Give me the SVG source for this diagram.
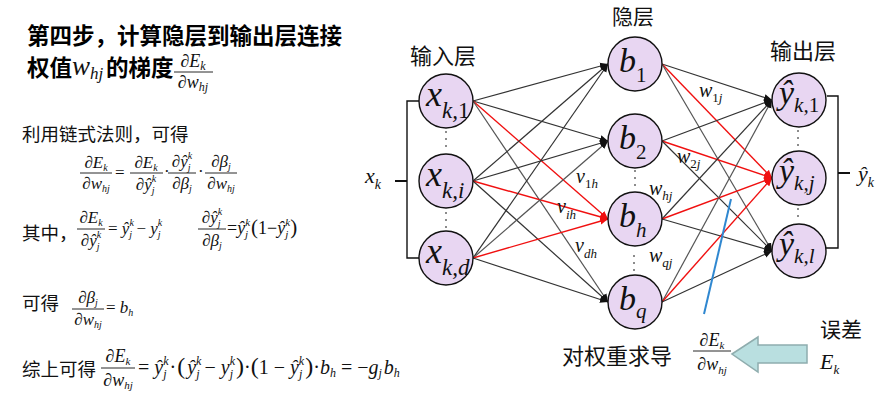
<svg xmlns="http://www.w3.org/2000/svg" width="881" height="400" viewBox="0 0 881 400">
<style>
.cn{font-family:"Noto Sans CJK SC","Noto Sans",sans-serif;fill:#111}
.cnb{font-family:"Noto Sans CJK SC","Noto Sans",sans-serif;font-weight:bold;fill:#000}
.mi{font-family:"Liberation Serif",serif;font-style:italic;fill:#111}
.mu{font-style:normal}
.node{fill:#e8d6f2;stroke:#111;stroke-width:1.4}
.e{stroke:#333;stroke-width:1.2;fill:none;marker-end:url(#ab)}
.r{stroke:#f01010;stroke-width:1.4;fill:none;marker-end:url(#ar)}
.bar{stroke:#111;stroke-width:0.9}
.dot{fill:#666}
</style>
<defs>
<marker id="ab" markerUnits="userSpaceOnUse" markerWidth="9" markerHeight="8" refX="8" refY="4" orient="auto"><path d="M0,0.5 L8,4 L0,7.5 Z" fill="#111"/></marker>
<marker id="ar" markerUnits="userSpaceOnUse" markerWidth="9" markerHeight="8" refX="8" refY="4" orient="auto"><path d="M0,0.5 L8,4 L0,7.5 Z" fill="#f01010"/></marker>
</defs>
<rect width="881" height="400" fill="#fff"/>

<!-- left text -->
<g id="title">
<text class="cnb" x="27" y="44" font-size="22.5">第四步，计算隐层到输出层连接</text>
<text class="cnb" x="27" y="76" font-size="22.5">权值</text>
<text class="mi" x="72" y="75" font-size="27">w<tspan font-size="17" dy="4">hj</tspan></text>
<text class="cnb" x="106" y="76" font-size="22.5">的梯度</text>
<text class="mi" x="193" y="67" font-size="18" text-anchor="middle"><tspan class="mu">∂</tspan>E<tspan font-size="12" dy="3">k</tspan></text>
<line class="bar" x1="174" y1="72" x2="213" y2="72"/>
<text class="mi" x="193" y="88" font-size="18" text-anchor="middle"><tspan class="mu">∂</tspan>w<tspan font-size="12" dy="3">hj</tspan></text>
</g>

<g id="eq1">
<text class="cn" x="22" y="141" font-size="18.5">利用链式法则，可得</text>
<text class="mi" x="96" y="168" font-size="17" text-anchor="middle"><tspan class="mu">∂</tspan>E<tspan font-size="10" dy="3">k</tspan></text>
<line class="bar" x1="80" y1="173" x2="112" y2="173"/>
<text class="mi" x="96" y="189" font-size="17" text-anchor="middle"><tspan class="mu">∂</tspan>w<tspan font-size="10" dy="3">hj</tspan></text>
<text class="mi mu" x="115" y="178" font-size="17">=</text>
<text class="mi" x="146" y="168" font-size="17" text-anchor="middle"><tspan class="mu">∂</tspan>E<tspan font-size="10" dy="3">k</tspan></text>
<line class="bar" x1="130" y1="173" x2="163" y2="173"/>
<text class="mi" x="146" y="190" font-size="17" text-anchor="middle"><tspan class="mu">∂</tspan>ŷ<tspan font-size="10" dy="-8">k</tspan><tspan font-size="10" dx="-4.5" dy="12">j</tspan></text>
<text class="mi mu" x="164" y="177" font-size="17">·</text>
<text class="mi" x="182" y="167" font-size="17" text-anchor="middle"><tspan class="mu">∂</tspan>ŷ<tspan font-size="10" dy="-8">k</tspan><tspan font-size="10" dx="-4.5" dy="12">j</tspan></text>
<line class="bar" x1="168" y1="173" x2="196" y2="173"/>
<text class="mi" x="182" y="189" font-size="17" text-anchor="middle"><tspan class="mu">∂</tspan>β<tspan font-size="10" dy="3">j</tspan></text>
<text class="mi mu" x="198" y="177" font-size="17">·</text>
<text class="mi" x="221" y="167" font-size="17" text-anchor="middle"><tspan class="mu">∂</tspan>β<tspan font-size="10" dy="3">j</tspan></text>
<line class="bar" x1="205" y1="173" x2="237" y2="173"/>
<text class="mi" x="221" y="189" font-size="17" text-anchor="middle"><tspan class="mu">∂</tspan>w<tspan font-size="10" dy="3">hj</tspan></text>
</g>

<g id="eq2">
<text class="cn" x="22" y="240" font-size="18.5">其中，</text>
<text class="mi" x="91" y="223" font-size="17" text-anchor="middle"><tspan class="mu">∂</tspan>E<tspan font-size="10" dy="3">k</tspan></text>
<line class="bar" x1="77" y1="229" x2="105" y2="229"/>
<text class="mi" x="91" y="246" font-size="17" text-anchor="middle"><tspan class="mu">∂</tspan>ŷ<tspan font-size="10" dy="-8">k</tspan><tspan font-size="10" dx="-4.5" dy="12">j</tspan></text>
<text class="mi" x="108" y="234" font-size="17"><tspan class="mu">= </tspan>ŷ<tspan font-size="10" dy="-8">k</tspan><tspan font-size="10" dx="-4.5" dy="12">j</tspan><tspan class="mu" dy="-4"> − </tspan>y<tspan font-size="10" dy="-8">k</tspan><tspan font-size="10" dx="-4.5" dy="12">j</tspan></text>
<text class="mi" x="212" y="223" font-size="17" text-anchor="middle"><tspan class="mu">∂</tspan>ŷ<tspan font-size="10" dy="-8">k</tspan><tspan font-size="10" dx="-4.5" dy="12">j</tspan></text>
<line class="bar" x1="198" y1="229" x2="226" y2="229"/>
<text class="mi" x="212" y="246" font-size="17" text-anchor="middle"><tspan class="mu">∂</tspan>β<tspan font-size="10" dy="3">j</tspan></text>
<text class="mi" x="227" y="234" font-size="18"><tspan class="mu">=</tspan>ŷ<tspan font-size="11" dy="-8">k</tspan><tspan font-size="11" dx="-5" dy="12">j</tspan><tspan class="mu" dy="-4" dx="3" font-size="21">(</tspan><tspan class="mu">1−</tspan>ŷ<tspan font-size="11" dy="-8">k</tspan><tspan font-size="11" dx="-5" dy="12">j</tspan><tspan class="mu" dy="-4" dx="2" font-size="21">)</tspan></text>
</g>

<g id="eq3">
<text class="cn" x="22" y="310" font-size="18.5">可得</text>
<text class="mi" x="88" y="303" font-size="17" text-anchor="middle"><tspan class="mu">∂</tspan>β<tspan font-size="10" dy="3">j</tspan></text>
<line class="bar" x1="72" y1="309" x2="104" y2="309"/>
<text class="mi" x="88" y="325" font-size="17" text-anchor="middle"><tspan class="mu">∂</tspan>w<tspan font-size="10" dy="3">hj</tspan></text>
<text class="mi" x="106" y="313" font-size="17"><tspan class="mu">= </tspan>b<tspan font-size="10" dy="3">h</tspan></text>
</g>

<g id="eq4">
<text class="cn" x="22" y="376" font-size="18.5">综上可得</text>
<text class="mi" x="118" y="362" font-size="18" text-anchor="middle"><tspan class="mu">∂</tspan>E<tspan font-size="11" dy="3">k</tspan></text>
<line class="bar" x1="101" y1="368" x2="135" y2="368"/>
<text class="mi" x="118" y="386" font-size="18" text-anchor="middle"><tspan class="mu">∂</tspan>w<tspan font-size="11" dy="3">hj</tspan></text>
<text class="mi" x="138" y="374" font-size="20"><tspan class="mu">= </tspan>ŷ<tspan font-size="12" dy="-9">k</tspan><tspan font-size="12" dx="-5.3" dy="13">j</tspan><tspan class="mu" dy="-4" dx="3">·</tspan><tspan class="mu" font-size="24" dx="1">(</tspan><tspan dx="2">ŷ</tspan><tspan font-size="12" dy="-9">k</tspan><tspan font-size="12" dx="-5.3" dy="13">j</tspan><tspan class="mu" dy="-4"> − </tspan>y<tspan font-size="12" dy="-9">k</tspan><tspan font-size="12" dx="-5.3" dy="13">j</tspan><tspan class="mu" dy="-4" dx="3" font-size="24">)</tspan><tspan class="mu">·</tspan><tspan class="mu" font-size="24">(</tspan><tspan class="mu">1 − </tspan>ŷ<tspan font-size="12" dy="-9">k</tspan><tspan font-size="12" dx="-5.3" dy="13">j</tspan><tspan class="mu" dy="-4" dx="3" font-size="24">)</tspan><tspan class="mu">·</tspan>b<tspan font-size="12" dy="3">h</tspan><tspan class="mu" dy="-3"> = −</tspan>g<tspan font-size="12" dy="3">j</tspan><tspan dy="-3" dx="2">b</tspan><tspan font-size="12" dy="3">h</tspan></text>
</g>

<!-- connectors -->
<g id="connectors">
<path class="e" d="M473,101 L608,64"/>
<path class="e" d="M473,101 L608,141"/>
<path class="r" d="M473,101 L608,219"/>
<path class="e" d="M473,101 L608,302" style="stroke:#555"/>
<path class="e" d="M473,181 L608,64"/>
<path class="e" d="M473,181 L608,141"/>
<path class="r" d="M473,181 L608,219"/>
<path class="e" d="M473,181 L608,302"/>
<path class="e" d="M473,258 L608,64"/>
<path class="e" d="M473,258 L608,141" style="stroke:#555"/>
<path class="r" d="M473,258 L608,219"/>
<path class="e" d="M473,258 L608,302"/>

<path class="e" d="M662,64 L772,100"/>
<path class="r" d="M662,64 L772,178"/>
<path class="e" d="M662,64 L772,251" style="stroke:#555"/>
<path class="e" d="M662,141 L772,100"/>
<path class="r" d="M662,141 L772,178"/>
<path class="e" d="M662,141 L772,251"/>
<path class="e" d="M662,219 L772,100"/>
<path class="r" d="M662,219 L772,178"/>
<path class="e" d="M662,219 L772,251"/>
<path class="e" d="M662,302 L772,100" style="stroke:#555"/>
<path class="r" d="M662,302 L772,178"/>
<path class="e" d="M662,302 L772,251"/>

<path d="M419,101 H407 V258 H419" fill="none" stroke="#111" stroke-width="1.4"/>
<path d="M395,181 H407" stroke="#111" stroke-width="2"/>
<path d="M827,96 H838 V248 H826" fill="none" stroke="#111" stroke-width="1.4"/>
<path d="M838,173 H850" stroke="#111" stroke-width="2"/>
<line x1="731" y1="199" x2="704" y2="314" stroke="#2f87d0" stroke-width="2"/>
</g>

<!-- layer labels -->
<text class="cn" x="410" y="64" font-size="22">输入层</text>
<text class="cn" x="612" y="24" font-size="21">隐层</text>
<text class="cn" x="770" y="59" font-size="22">输出层</text>

<!-- dots -->
<g id="dots">
<circle class="dot" cx="446" cy="132" r="1"/><circle class="dot" cx="446" cy="139" r="1"/><circle class="dot" cx="446" cy="146" r="1"/>
<circle class="dot" cx="446" cy="213" r="1"/><circle class="dot" cx="446" cy="220" r="1"/><circle class="dot" cx="446" cy="227" r="1"/>
<circle class="dot" cx="635" cy="171" r="1"/><circle class="dot" cx="635" cy="178" r="1"/><circle class="dot" cx="635" cy="185" r="1"/>
<circle class="dot" cx="634" cy="256" r="1"/><circle class="dot" cx="634" cy="263" r="1"/><circle class="dot" cx="634" cy="270" r="1"/>
<circle class="dot" cx="798" cy="131" r="1"/><circle class="dot" cx="798" cy="138" r="1"/><circle class="dot" cx="798" cy="145" r="1"/>
<circle class="dot" cx="798" cy="202" r="1"/><circle class="dot" cx="798" cy="209" r="1"/><circle class="dot" cx="798" cy="216" r="1"/>
</g>

<!-- input nodes -->
<g id="x1"><circle class="node" cx="446" cy="101" r="27"/><text class="mi" x="426" y="106" font-size="36">x<tspan font-size="23" dy="12">k,</tspan><tspan class="mu" font-size="23">1</tspan></text></g>
<g id="xi"><circle class="node" cx="446" cy="181" r="27"/><text class="mi" x="426" y="186" font-size="36">x<tspan font-size="23" dy="12">k,i</tspan></text></g>
<g id="xd"><circle class="node" cx="446" cy="258" r="27"/><text class="mi" x="426" y="263" font-size="36">x<tspan font-size="23" dy="12">k,d</tspan></text></g>

<!-- hidden nodes -->
<g id="b1"><circle class="node" cx="635" cy="64" r="27"/><text class="mi" x="619" y="72" font-size="34">b<tspan class="mu" font-size="21" dy="10">1</tspan></text></g>
<g id="b2"><circle class="node" cx="635" cy="141" r="27"/><text class="mi" x="619" y="149" font-size="34">b<tspan class="mu" font-size="21" dy="10">2</tspan></text></g>
<g id="bh"><circle class="node" cx="635" cy="219" r="27"/><text class="mi" x="619" y="227" font-size="34">b<tspan font-size="21" dy="10">h</tspan></text></g>
<g id="bq"><circle class="node" cx="635" cy="302" r="27"/><text class="mi" x="619" y="310" font-size="34">b<tspan font-size="21" dy="8">q</tspan></text></g>

<!-- output nodes -->
<g id="y1"><circle class="node" cx="799" cy="100" r="27"/><text class="mi" x="779" y="104" font-size="34">ŷ<tspan font-size="21" dy="8">k,</tspan><tspan class="mu" font-size="21">1</tspan></text></g>
<g id="yj"><circle class="node" cx="799" cy="178" r="27"/><text class="mi" x="779" y="182" font-size="34">ŷ<tspan font-size="21" dy="8">k,j</tspan></text></g>
<g id="yl"><circle class="node" cx="799" cy="251" r="27"/><text class="mi" x="779" y="255" font-size="34">ŷ<tspan font-size="21" dy="8">k,l</tspan></text></g>

<!-- side labels -->
<text class="mi" x="365" y="183" font-size="22">x<tspan font-size="14" dy="6">k</tspan></text>
<text class="mi" x="858" y="181" font-size="22">ŷ<tspan font-size="14" dy="6">k</tspan></text>

<!-- weight labels -->
<g id="wlabels">
<text class="mi" x="576" y="183" font-size="20">v<tspan font-size="13" dy="5" class="mu">1</tspan><tspan font-size="13">h</tspan></text>
<text class="mi" x="557" y="213" font-size="20">v<tspan font-size="13" dy="6">ih</tspan></text>
<text class="mi" x="575" y="252" font-size="20">v<tspan font-size="13" dy="6">dh</tspan></text>
<text class="mi" x="699" y="97" font-size="20">w<tspan font-size="13" dy="5" class="mu">1</tspan><tspan font-size="13">j</tspan></text>
<text class="mi" x="677" y="163" font-size="20">w<tspan font-size="13" dy="5" class="mu">2</tspan><tspan font-size="13">j</tspan></text>
<text class="mi" x="649" y="195" font-size="20">w<tspan font-size="13" dy="5">hj</tspan></text>
<text class="mi" x="649" y="262" font-size="20">w<tspan font-size="13" dy="5">qj</tspan></text>
</g>

<!-- bottom annotations -->
<text class="cn" x="562" y="364" font-size="22">对权重求导</text>
<g id="grad">
<text class="mi" x="712" y="346" font-size="18" text-anchor="middle"><tspan class="mu">∂</tspan>E<tspan font-size="11" dy="3">k</tspan></text>
<line class="bar" x1="693" y1="351" x2="731" y2="351"/>
<text class="mi" x="712" y="370" font-size="18" text-anchor="middle"><tspan class="mu">∂</tspan>w<tspan font-size="11" dy="4">hj</tspan></text>
</g>
<polygon id="bigarrow" points="732,354 758,337 758,345 807,345 807,363 758,363 758,372" fill="#b9dfe0" stroke="#8fadae" stroke-width="1.5"/>
<text class="cn" x="820" y="337" font-size="21">误差</text>
<text class="mi" x="820" y="369" font-size="22">E<tspan font-size="13" dy="5">k</tspan></text>
</svg>
